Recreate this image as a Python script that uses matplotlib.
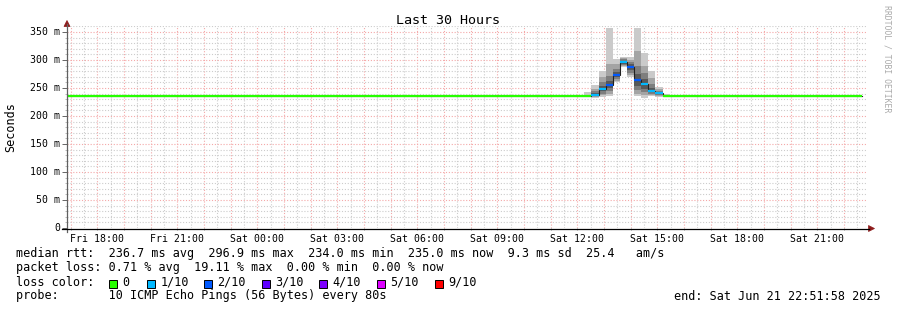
import matplotlib
matplotlib.use("Agg")
import matplotlib.pyplot as plt
import matplotlib.dates as mdates
import matplotlib.transforms as mtrans
from matplotlib.patches import Rectangle, Polygon
from matplotlib.ticker import MultipleLocator, NullFormatter
import pandas as pd

# ---------------- data ----------------
title = "Last 30 Hours"
y_label = "Seconds"
t_start = "2025-06-20 16:51:58"
t_end = "2025-06-21 22:51:58"
y_max = 360

ytick_values = [0, 50, 100, 150, 200, 250, 300, 350]
ytick_labels = ["0", "50 m", "100 m", "150 m", "200 m", "250 m", "300 m", "350 m"]

xlabel_times = ["2025-06-20 18:00", "2025-06-20 21:00", "2025-06-21 00:00",
                "2025-06-21 03:00", "2025-06-21 06:00", "2025-06-21 09:00",
                "2025-06-21 12:00", "2025-06-21 15:00", "2025-06-21 18:00",
                "2025-06-21 21:00"]
xlabel_texts = ["Fri 18:00", "Fri 21:00", "Sat 00:00", "Sat 03:00", "Sat 06:00",
                "Sat 09:00", "Sat 12:00", "Sat 15:00", "Sat 18:00", "Sat 21:00"]

# steady, loss-free periods (median rtt in ms)
base_starts = ["2025-06-20 16:52", "2025-06-21 15:28"]
base_ends = ["2025-06-21 12:16", "2025-06-21 22:40"]
base_ms = [235.0, 235.2]

# 16-minute bins around the afternoon spike: 10 sorted ping rtts (ms) each
bin_minutes = 16
bin_starts = ["2025-06-21 12:16", "2025-06-21 12:32", "2025-06-21 12:48",
              "2025-06-21 13:04", "2025-06-21 13:20", "2025-06-21 13:36",
              "2025-06-21 13:52", "2025-06-21 14:08", "2025-06-21 14:24",
              "2025-06-21 14:40", "2025-06-21 14:56", "2025-06-21 15:12"]
pings_a = [234.0, 234.5, 235.0, 235.0, 235.0, 235.5, 236.0, 236.0, 238.0, 242.0]
pings_b = [233.0, 234.0, 235.0, 236.0, 237.5, 239.0, 241.0, 244.0, 248.0, 255.0]
pings_c = [234.0, 237.0, 240.0, 245.0, 248.0, 250.0, 254.0, 260.0, 270.0, 281.0]
pings_d = [236.0, 240.0, 245.0, 250.0, 254.0, 256.0, 262.0, 272.0, 293.0, 357.0]
pings_e = [260.0, 263.0, 266.0, 270.0, 272.0, 274.0, 278.0, 284.0, 292.0, 302.0]
pings_f = [287.0, 289.0, 291.0, 293.0, 295.0, 297.0, 299.0, 301.0, 303.0, 305.0]
pings_g = [269.0, 273.0, 277.0, 282.0, 286.0, 288.0, 292.0, 296.0, 300.0, 305.0]
pings_h = [236.0, 240.0, 246.0, 254.0, 262.0, 266.0, 275.0, 290.0, 316.0, 357.0]
pings_i = [233.0, 237.0, 242.0, 248.0, 255.0, 259.0, 266.0, 276.0, 290.0, 312.0]
pings_j = [236.0, 238.0, 240.0, 242.0, 244.0, 246.0, 250.0, 258.0, 268.0, 280.0]
pings_k = [234.0, 236.0, 238.0, 239.0, 240.0, 242.0, 243.0, 245.0, 248.0, 251.0]
pings_l = [234.5, 235.0, 235.0, 235.5, 235.5, 236.0, 236.0, 236.5, 237.0, 240.0]
bin_pings = [pings_a, pings_b, pings_c, pings_d, pings_e, pings_f,
             pings_g, pings_h, pings_i, pings_j, pings_k, pings_l]
bin_loss = ["0", "1/10", "1/10", "2/10", "2/10", "1/10",
            "2/10", "2/10", "1/10", "1/10", "1/10", "0"]

loss_levels = ["0", "1/10", "2/10", "3/10", "4/10", "5/10", "9/10"]
loss_colors = ["#26ff00", "#00b8ff", "#0059ff", "#5e00ff", "#7e00ff", "#dd00ff", "#ff0000"]

legend_rtt = "median rtt:  236.7 ms avg  296.9 ms max  234.0 ms min  235.0 ms now  9.3 ms sd  25.4   am/s"
legend_loss = "packet loss: 0.71 % avg  19.11 % max  0.00 % min  0.00 % now"
legend_color_title = "loss color:"
legend_probe = "probe:       10 ICMP Echo Pings (56 Bytes) every 80s"
legend_end = "end: Sat Jun 21 22:51:58 2025"
watermark = "RRDTOOL / TOBI OETIKER"

# ---------------- drawing ----------------
W, H, DPI = 897, 310, 100
MONO = "DejaVu Sans Mono"
plt.rcParams["font.family"] = MONO

fig = plt.figure(figsize=(W / DPI, H / DPI), dpi=DPI, facecolor="white")

AX_L, AX_R, AX_B, AX_T = 67, 867, 228, 26.4   # pixel frame (y from top)
ax = fig.add_axes([AX_L / W, 1 - AX_B / H, (AX_R - AX_L) / W, (AX_B - AX_T) / H])
ax.set_facecolor("white")


def num(s):
    return mdates.date2num(pd.Timestamp(s).to_pydatetime())


def fx(px):
    return px / W


def fy(py):
    return 1 - py / H


x0, x1 = num(t_start), num(t_end)
ax.set_xlim(x0, x1)
ax.set_ylim(0, y_max)

# grid
ax.xaxis.set_major_locator(mdates.HourLocator())
ax.xaxis.set_minor_locator(mdates.MinuteLocator(byminute=[30]))
ax.yaxis.set_major_locator(MultipleLocator(50))
ax.yaxis.set_minor_locator(MultipleLocator(10))
for axis in (ax.xaxis, ax.yaxis):
    axis.set_major_formatter(NullFormatter())
    axis.set_minor_formatter(NullFormatter())
dots = (0, (1, 1.6))
ax.grid(which="minor", color="#cccccc", linestyle=dots, linewidth=0.8)
ax.grid(which="major", color="#f4a8a8", linestyle=dots, linewidth=0.8)
ax.set_axisbelow(True)

ax.tick_params(axis="y", which="major", length=3.5, width=0.7, color="#666666", direction="out")
ax.tick_params(axis="y", which="minor", length=1.5, width=0.6, color="#b0b0b0", direction="out")
ax.tick_params(axis="x", which="major", length=1.5, width=0.6, color="#888888", direction="out")
ax.tick_params(axis="x", which="minor", length=0)

for side in ("top", "right", "left", "bottom"):
    ax.spines[side].set_visible(False)

# smoke
step = bin_minutes / (24 * 60)
grays = [202, 164, 126, 88, 50]
medians = []
for s, p in zip(bin_starts, bin_pings):
    b0 = num(s)
    b1 = b0 + step
    for k, g in enumerate(grays):
        c = "#%02x%02x%02x" % (g, g, g)
        ax.fill_between([b0, b1], [p[k], p[k]], [p[9 - k], p[9 - k]],
                        color=c, linewidth=0, antialiased=False, zorder=2)
    medians.append((p[4] + p[5]) / 2)

# median step line (dark connectors)
xs, ys = [], []
xs += [num(base_starts[0]), num(base_ends[0])]
ys += [base_ms[0], base_ms[0]]
for s, m in zip(bin_starts, medians):
    b0 = num(s)
    xs += [b0, b0 + step]
    ys += [m, m]
xs += [num(base_starts[1]), num(base_ends[1])]
ys += [base_ms[1], base_ms[1]]
ax.plot(xs, ys, color="#202020", linewidth=0.8, zorder=3, solid_joinstyle="miter")

# coloured median segments by loss
cmap = dict(zip(loss_levels, loss_colors))
for bs, be, m in zip(base_starts, base_ends, base_ms):
    ax.hlines(m, num(bs), num(be), colors=cmap["0"], linewidth=1.6, zorder=4)
for s, m, l in zip(bin_starts, medians, bin_loss):
    b0 = num(s)
    ax.hlines(m, b0, b0 + step, colors=cmap[l], linewidth=1.6, zorder=4)

# y tick labels
ytrans = mtrans.blended_transform_factory(ax.transAxes, ax.transData)
for v, lab in zip(ytick_values, ytick_labels):
    ax.text(-6.5 / (AX_R - AX_L), v, lab,
            transform=ytrans + mtrans.ScaledTranslation(0, -3.4 / DPI, fig.dpi_scale_trans),
            ha="right", va="baseline", fontsize=7.1, color="black")

# x tick labels
xtrans = mtrans.blended_transform_factory(ax.transData, ax.transAxes)
for t, lab in zip(xlabel_times, xlabel_texts):
    ax.text(num(t), 0, lab,
            transform=xtrans + mtrans.ScaledTranslation(0, -13.5 / DPI, fig.dpi_scale_trans),
            ha="center", va="baseline", fontsize=7.1, color="black")

# axes lines and arrows
fig.add_artist(plt.Line2D([fx(67), fx(67)], [fy(232), fy(24)], color="#606060", linewidth=0.9))
fig.add_artist(plt.Line2D([fx(62), fx(869)], [fy(228.5), fy(228.5)], color="black", linewidth=0.9))
fig.add_artist(Polygon([[fx(64), fy(26.5)], [fx(70), fy(26.5)], [fx(67), fy(20.5)]],
                       closed=True, facecolor="#8e1b1b", edgecolor="#8e1b1b", linewidth=0.5))
fig.add_artist(Polygon([[fx(868.5), fy(225.5)], [fx(868.5), fy(231.5)], [fx(874.5), fy(228.5)]],
                       closed=True, facecolor="#8e1b1b", edgecolor="#8e1b1b", linewidth=0.5))

# titles
fig.text(fx(448), fy(24), title, ha="center", va="baseline", fontsize=9.6, color="black")
fig.text(fx(11), fy(127), y_label, ha="center", va="center", rotation=90, fontsize=8.5, color="black")
fig.text(fx(887), fy(59), watermark, ha="center", va="center", rotation=270, fontsize=5.9, color="#aaaaaa")

# legend
LEG_FS = 8.5
fig.text(fx(15.5), fy(257.5), legend_rtt, ha="left", va="baseline", fontsize=LEG_FS)
fig.text(fx(15.5), fy(271.5), legend_loss, ha="left", va="baseline", fontsize=LEG_FS)
fig.text(fx(15.5), fy(285.5), legend_color_title, ha="left", va="baseline", fontsize=LEG_FS)
box_x = [108.5, 146.5, 203.5, 261.5, 318.5, 376.5, 434.5]
for bx, lab, col in zip(box_x, loss_levels, loss_colors):
    fig.add_artist(Rectangle((fx(bx), fy(287.5)), 8 / W, 8 / H, transform=fig.transFigure,
                             facecolor=col, edgecolor="black", linewidth=0.7))
    fig.text(fx(bx + 13.8), fy(285.5), lab, ha="left", va="baseline", fontsize=LEG_FS)
fig.text(fx(15.5), fy(299.5), legend_probe, ha="left", va="baseline", fontsize=LEG_FS)
fig.text(fx(881), fy(299.5), legend_end, ha="right", va="baseline", fontsize=LEG_FS)

fig.savefig("out.png", dpi=DPI, facecolor="white")
